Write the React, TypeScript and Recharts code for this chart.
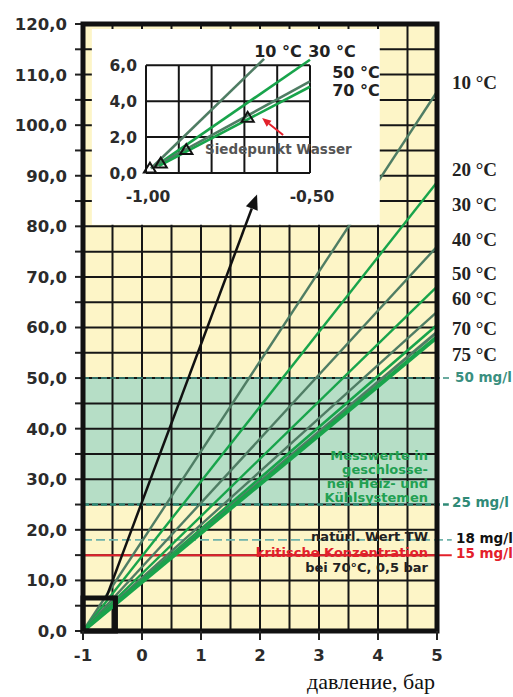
import React from 'react';
import {
  ComposedChart,
  Line,
  Scatter,
  XAxis,
  YAxis,
  CartesianGrid,
  ReferenceArea,
  ReferenceLine,
} from 'recharts';

// ---- data: main chart (concentration mg/l vs pressure bar) ----
const pressureRange = [-1, 5];
const tempNames = ['10 °C', '20 °C', '30 °C', '40 °C', '50 °C', '60 °C', '70 °C', '75 °C'];
const valueAtStart = [0, 0, 0, 0, 0, 0, 0, 0];
const valueAt5bar = [106.6, 88.7, 76.0, 68.1, 63.1, 60.5, 59.1, 58.1];
const pressureTicks = [-1, -0.5, 0, 0.5, 1, 1.5, 2, 2.5, 3, 3.5, 4, 4.5, 5];
const concTicks = [0, 5, 10, 15, 20, 25, 30, 35, 40, 45, 50, 55, 60, 65, 70, 75, 80, 85, 90, 95, 100, 105, 110, 115, 120];
const limitValues = [50, 25, 18, 15];
const limitNames = ['50 mg/l', '25 mg/l', '18 mg/l', '15 mg/l'];
const bandRange = [25, 50];
const zoomP = [-1, -0.45];
const zoomV = [0, 6.5];
const arrowFrom = [-0.61, 6.5];
const arrowTo = [1.95, 86.3];

// ---- data: inset (boiling points) ----
const insetNames = ['10 °C', '30 °C', '50 °C', '70 °C'];
const insetStartP = [-0.985, -0.97, -0.965, -0.96];
const insetStartV = [0.25, 0.4, 0.45, 0.4];
const insetEndP = [-0.64, -0.5, -0.5, -0.5];
const insetEndV = [6.35, 6.3, 5.1, 4.8];
const boilP = [-0.988, -0.955, -0.877, -0.69];
const boilV = [0.27, 0.55, 1.3, 3.1];
const insetGridP = [-1, -0.9, -0.8, -0.7, -0.6, -0.5];
const insetGridV = [0, 2, 4, 6];
const insetLabelP = [-1, -0.5];
const redArrowFrom = [-0.582, 2.11];
const redArrowTo = [-0.646, 3.06];

const lineData = tempNames.map((_, i) => [
  { p: pressureRange[0], v: valueAtStart[i] },
  { p: pressureRange[1], v: valueAt5bar[i] },
]);
const insetData = insetNames.map((_, i) => [
  { p: insetStartP[i], v: insetStartV[i] },
  { p: insetEndP[i], v: insetEndV[i] },
]);
const boilData = boilP.map((p, i) => ({ p, v: boilV[i] }));

// ---- styles ----
const DARK = '#4f7d64';
const GREEN = '#18a44b';
const lineColors = [DARK, GREEN, DARK, GREEN, DARK, GREEN, DARK, GREEN];
const lineWidths = [2.4, 2.4, 2.4, 2.4, 2.4, 2.6, 3, 4];
const insetColors = [DARK, GREEN, DARK, GREEN];
const limitColors = ['#3a8f80', '#2f8a77', '#6fb3aa', '#e3202b'];
const limitDash = ['6 3', '6 3', '9 4', undefined];
const limitWidths = [1.5, 2.5, 1.8, 2];
const limitEnds = [5.25, 5.2, 5.25, 5.25];

const SANS = '"DejaVu Sans", Verdana, sans-serif';
const SERIF = '"Liberation Serif", "Times New Roman", serif';

const fmt1 = (v: number) => v.toFixed(1).replace('.', ',');
const fmt2 = (v: number) => v.toFixed(2).replace('.', ',');

const arrowShape = (color: string, width: number, head: number) => (props: any) => {
  const { x1, y1, x2, y2 } = props;
  if ([x1, y1, x2, y2].some((v) => v == null || isNaN(v))) return <g />;
  const a = Math.atan2(y2 - y1, x2 - x1);
  const bx = x2 - head * Math.cos(a);
  const by = y2 - head * Math.sin(a);
  const w = head * 0.42;
  const pts = [
    `${x2},${y2}`,
    `${bx + w * Math.sin(a)},${by - w * Math.cos(a)}`,
    `${bx - w * Math.sin(a)},${by + w * Math.cos(a)}`,
  ].join(' ');
  return (
    <g>
      <line x1={x1} y1={y1} x2={bx} y2={by} stroke={color} strokeWidth={width} />
      <polygon points={pts} fill={color} />
    </g>
  );
};

const MainYTick = (props: any) => {
  const { x, y, payload } = props;
  if (payload.value % 10 !== 0) return <g />;
  return (
    <text x={x} y={y} dy="0.36em" textAnchor="end" fontFamily={SANS} fontWeight="bold" fontSize={16.5} fill="#2b2b2b">
      {fmt1(payload.value)}
    </text>
  );
};

const MainXTick = (props: any) => {
  const { x, y, payload } = props;
  if (!Number.isInteger(payload.value)) return <g />;
  return (
    <g>
      <line x1={x} y1={y} x2={x} y2={y + 9} stroke="#222" strokeWidth={2} />
      <text x={x} y={y + 30} textAnchor="middle" fontFamily={SANS} fontWeight="bold" fontSize={16.5} fill="#2b2b2b">
        {String(payload.value)}
      </text>
    </g>
  );
};

const InsetYTick = (props: any) => {
  const { x, y, payload } = props;
  return (
    <text x={x} y={y} dy="0.36em" textAnchor="end" fontFamily={SANS} fontWeight="bold" fontSize={15.5} fill="#2b2b2b">
      {fmt1(payload.value)}
    </text>
  );
};

const InsetXTick = (props: any) => {
  const { x, y, payload } = props;
  return (
    <text x={x + 2} y={y + 29} textAnchor="middle" fontFamily={SANS} fontWeight="bold" fontSize={15.5} fill="#2b2b2b">
      {fmt2(payload.value)}
    </text>
  );
};

const Triangle = (props: any) => {
  const { cx, cy } = props;
  if (cx == null || cy == null) return <g />;
  const s = 5.5;
  return (
    <polygon
      points={`${cx},${cy - s} ${cx - s * 1.1},${cy + s * 0.8} ${cx + s * 1.1},${cy + s * 0.8}`}
      fill="none"
      stroke="#111"
      strokeWidth={2}
    />
  );
};

// text placed around the chart (pixel layout)
const tempLabelY = [89, 176, 211, 246, 280, 305, 335, 361];
const limitLabelX = [455, 452, 456, 456];
const limitLabelY = [382, 507, 543, 558];
const insetLabelX = [278, 332, 356, 356];
const insetLabelY = [57, 57, 78, 96];
const boxText = ['Messwerte in', 'geschlosse-', 'nen Heiz- und', 'Kühlsystemen'];

export default function App() {
  return (
    <div style={{ position: 'absolute', left: 0, top: 0, width: 513, height: 697, background: '#fff' }}>
      <div style={{ position: 'absolute', left: 0, top: 0 }}>
        <ComposedChart width={513} height={697} margin={{ top: 24, right: 76, bottom: 0, left: 0 }}>
          <XAxis
            type="number"
            dataKey="p"
            domain={[pressureRange[0], pressureRange[1]]}
            ticks={pressureTicks}
            interval={0}
            height={66}
            tickSize={0}
            tickMargin={0}
            tickLine={false}
            axisLine={false}
            tick={MainXTick}
          />
          <YAxis
            type="number"
            dataKey="v"
            domain={[0, 120]}
            ticks={concTicks}
            interval={0}
            width={83}
            tickSize={8}
            tickMargin={8}
            tickLine={{ stroke: '#222', strokeWidth: 2 }}
            axisLine={false}
            tick={MainYTick}
          />
          <ReferenceArea x1={-1} x2={5} y1={0} y2={120} fill="#fdf5c7" fillOpacity={1} stroke="none" zIndex={-300} />
          <ReferenceArea
            x1={-1}
            x2={5}
            y1={bandRange[0]}
            y2={bandRange[1]}
            fill="#b6dec6"
            fillOpacity={1}
            stroke="none"
            zIndex={-200}
          />
          <CartesianGrid stroke="#161616" strokeWidth={2} fill="none" />
          {limitValues.map((v, i) => (
            <ReferenceLine
              key={limitNames[i]}
              segment={[
                { x: -1, y: v },
                { x: limitEnds[i], y: v },
              ]}
              stroke={limitColors[i]}
              strokeWidth={limitWidths[i]}
              strokeDasharray={limitDash[i]}
              ifOverflow="visible"
              zIndex={300}
            />
          ))}
          {lineData.map((d, i) => (
            <Line
              key={tempNames[i]}
              data={d}
              dataKey="v"
              type="linear"
              stroke={lineColors[i]}
              strokeWidth={lineWidths[i]}
              dot={false}
              activeDot={false}
              isAnimationActive={false}
            />
          ))}
          <ReferenceArea x1={-0.85} x2={4.03} y1={80.3} y2={119} fill="#fff" fillOpacity={1} stroke="none" zIndex={450} />
          <ReferenceArea
            x1={zoomP[0]}
            x2={zoomP[1]}
            y1={zoomV[0]}
            y2={zoomV[1]}
            fill="none"
            stroke="#111"
            strokeWidth={5}
            zIndex={700}
          />
          <ReferenceLine
            segment={[
              { x: arrowFrom[0], y: arrowFrom[1] },
              { x: arrowTo[0], y: arrowTo[1] },
            ]}
            shape={arrowShape('#111', 2.5, 15)}
            ifOverflow="visible"
            zIndex={700}
          />
          <ReferenceArea x1={-1} x2={5} y1={0} y2={120} fill="none" stroke="#111" strokeWidth={5} zIndex={800} />
        </ComposedChart>
      </div>

      <div style={{ position: 'absolute', left: 0, top: 0 }}>
        <ComposedChart width={400} height={210} margin={{ top: 58, right: 90, bottom: 7, left: 86 }}>
          <XAxis
            type="number"
            dataKey="p"
            domain={[-1, -0.5]}
            ticks={insetLabelP}
            interval={0}
            height={30}
            tickSize={0}
            tickMargin={0}
            tickLine={false}
            axisLine={false}
            tick={InsetXTick}
          />
          <YAxis
            type="number"
            dataKey="v"
            domain={[0, 6.4]}
            ticks={insetGridV}
            interval={0}
            width={60}
            tickSize={0}
            tickMargin={9}
            tickLine={false}
            axisLine={false}
            tick={InsetYTick}
          />
          {insetGridP.map((p) => (
            <ReferenceLine
              key={'gp' + p}
              segment={[
                { x: p, y: 0 },
                { x: p, y: 6 },
              ]}
              stroke="#151515"
              strokeWidth={2}
              ifOverflow="visible"
            />
          ))}
          {insetGridV.map((v) => (
            <ReferenceLine
              key={'gv' + v}
              segment={[
                { x: -1, y: v },
                { x: -0.5, y: v },
              ]}
              stroke="#151515"
              strokeWidth={2}
              ifOverflow="visible"
            />
          ))}
          <ReferenceArea x1={-0.835} x2={-0.494} y1={0.25} y2={1.94} fill="#fff" fillOpacity={1} stroke="none" />
          {insetData.map((d, i) => (
            <Line
              key={insetNames[i]}
              data={d}
              dataKey="v"
              type="linear"
              stroke={insetColors[i]}
              strokeWidth={2.6}
              dot={false}
              activeDot={false}
              isAnimationActive={false}
            />
          ))}
          <Scatter data={boilData} shape={Triangle} isAnimationActive={false} />
          <ReferenceLine
            segment={[
              { x: redArrowFrom[0], y: redArrowFrom[1] },
              { x: redArrowTo[0], y: redArrowTo[1] },
            ]}
            shape={arrowShape('#e3202b', 2, 9)}
            ifOverflow="visible"
            zIndex={700}
          />
        </ComposedChart>
      </div>

      <svg width={513} height={697} style={{ position: 'absolute', left: 0, top: 0, pointerEvents: 'none' }}>
        {tempNames.map((t, i) => (
          <text key={t} x={452} y={tempLabelY[i]} fontFamily={SERIF} fontWeight="bold" fontSize={19} fill="#222">
            {t}
          </text>
        ))}
        {limitNames.map((t, i) => (
          <text
            key={t}
            x={limitLabelX[i]}
            y={limitLabelY[i]}
            fontFamily={SANS}
            fontWeight="bold"
            fontSize={13.5}
            fill={i === 2 ? '#111' : limitColors[i]}
          >
            {t}
          </text>
        ))}
        {boxText.map((t, i) => (
          <text key={t} x={428} y={460 + i * 14} textAnchor="end" fontFamily={SANS} fontWeight="bold" fontSize={13} fill="#22a052">
            {t}
          </text>
        ))}
        <text x={428} y={541} textAnchor="end" fontFamily={SANS} fontWeight="bold" fontSize={13} fill="#222">
          natürl. Wert TW
        </text>
        <text x={428} y={556.5} textAnchor="end" fontFamily={SANS} fontWeight="bold" fontSize={13} fill="#e3202b">
          kritische Konzentration
        </text>
        <text x={428} y={571.5} textAnchor="end" fontFamily={SANS} fontWeight="bold" fontSize={13} fill="#222">
          bei 70°C, 0,5 bar
        </text>
        {insetNames.map((t, i) => (
          <text
            key={t}
            x={insetLabelX[i]}
            y={insetLabelY[i]}
            textAnchor="middle"
            fontFamily={SANS}
            fontWeight="bold"
            fontSize={16}
            fill="#222"
          >
            {t}
          </text>
        ))}
        <text x={205} y={154} fontFamily={SANS} fontWeight="bold" fontSize={13.5} fill="#555">
          Siedepunkt Wasser
        </text>
        <text x={371} y={689} textAnchor="middle" fontFamily={SERIF} fontSize={22} fill="#111">
          давление, бар
        </text>
      </svg>
    </div>
  );
}
